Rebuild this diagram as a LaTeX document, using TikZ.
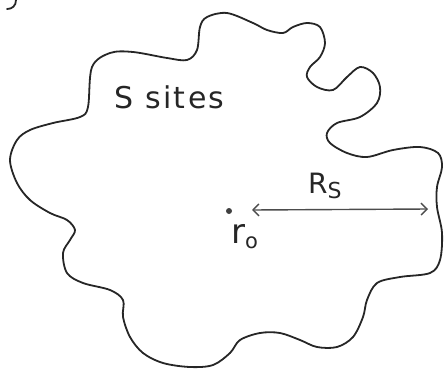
\documentclass[tikz,border=0pt]{standalone}
\usepackage{fontspec}
\newfontfamily\hand{DejaVu Sans}
\usetikzlibrary{arrows.meta}
\begin{document}
\begin{tikzpicture}[x=1pt,y=-1pt,
  outline/.style={draw=black!85,line width=1.8pt,line join=round,line cap=round},
  lbl/.style={inner sep=0pt,text=black!85}]
\useasboundingbox (0,0) rectangle (444,372);
\draw[outline] plot[smooth cycle,tension=0.55] coordinates {
(88,107)(92,67)(110,53)(133,52)(167,58)(187,60)(197,50)(200,27)(207,17)(227,13)(253,23)(267,30)(283,33)(293,27)(307,23)(320,27)(325,43)(320,57)(310,67)(307,77)(317,87)(333,90)(347,77)(360,67)(373,73)(380,87)(377,103)(360,117)(337,123)(327,133)(330,143)(347,153)(367,157)(393,150)(420,147)(438,153)(442,167)(437,187)(437,207)(442,233)(440,260)(430,273)(400,277)(377,283)(367,300)(363,317)(353,337)(337,347)(317,347)(300,340)(280,333)(260,333)(240,340)(230,353)(213,365)(190,367)(163,363)(143,353)(130,337)(123,317)(123,300)(110,290)(83,283)(67,273)(63,253)(70,240)(75,230)(67,220)(50,213)(30,200)(17,183)(10,160)(17,140)(30,130)(53,123)(80,117)};
\draw[outline] (16,0) .. controls (16,6) and (12,9) .. (7,9);
\node[lbl,font=\fontsize{30}{34}\selectfont\hand\addfontfeature{LetterSpace=8},anchor=base west] (sites) at (114,108) {S sites};
\fill[black!75] (229,211) circle (3);
\coordinate (r0) at (229,211);
\node[lbl,font=\fontsize{34}{38}\selectfont\hand,anchor=base west] (r0lbl) at (231,243) {r\raisebox{-0.3ex}{\fontsize{21}{24}\selectfont o}};
\coordinate (a) at (252,210);
\coordinate (b) at (428,209);
\draw[draw=black!70,line width=1.4pt,{Straight Barb[length=6pt,width=12pt]}-{Straight Barb[length=6pt,width=12pt]}] (a) -- (b);
\node[lbl,font=\fontsize{28}{32}\selectfont\hand,anchor=base west] (rs) at (308,193) {R\raisebox{-0.35ex}{\fontsize{22}{26}\selectfont S}};
\end{tikzpicture}
\end{document}
